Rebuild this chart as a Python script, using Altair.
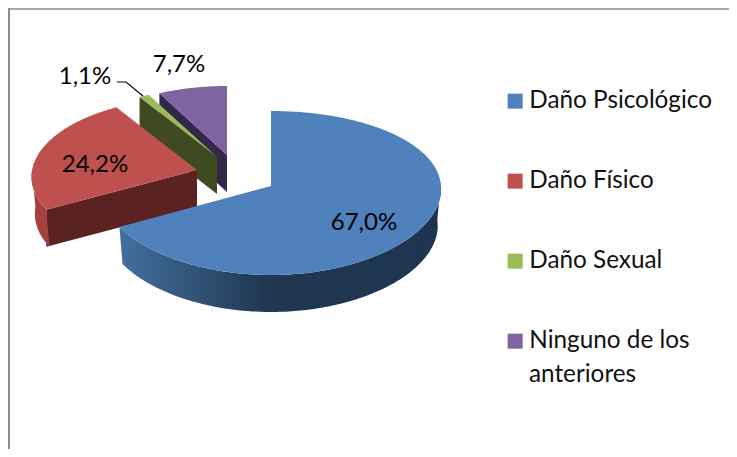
import math
import altair as alt

categories = ["Daño Psicológico", "Daño Físico", "Daño Sexual", "Ninguno de los anteriores"]
values = [67.0, 24.2, 1.1, 7.7]
value_labels = ["67,0%", "24,2%", "1,1%", "7,7%"]
top_colors = ["#4F81BD", "#BE504D", "#9BBB59", "#8064A2"]
cut_colors = ["#1F3450", "#5A2321", "#3F4A20", "#33274A"]

# pie geometry (page pixels): apex shift and size for each exploded slice
APEX = [(271, 186), (197, 170), (217, 157), (227, 155)]
SCALE = [1.0, 0.97, 0.93, 0.92]
KX = [0.035, 0.0853, 0.0853, 0.0853]
A, B, K, DEPTH = 170, 81.4, 0.0853, 37


def pt(i, deg, r=1.0, bottom=False):
    t = math.radians(deg)
    v = -math.cos(t) * r
    x = A * math.sin(t) * r / (1 - KX[i] * v) * SCALE[i]
    y = B * v / (1 - K * v) * SCALE[i]
    if bottom:
        return [APEX[i][0] + x * 0.98, APEX[i][1] + y + DEPTH]
    return [APEX[i][0] + x, APEX[i][1] + y]


def arc(i, a, b, bottom=False):
    n = max(2, int(abs(b - a)))
    return [pt(i, a + (b - a) * k / n, bottom=bottom) for k in range(n + 1)]


def feature(ring, cat):
    ring = ring + [ring[0]]
    return {"type": "Feature", "properties": {"category": cat},
            "geometry": {"type": "Polygon", "coordinates": [ring]}}


starts = [sum(values[:i]) * 3.6 for i in range(4)]
ends = [sum(values[:i + 1]) * 3.6 for i in range(4)]
PROJ = dict(type="identity", scale=1, translate=[-8, -8])
color_scale = alt.Scale(domain=categories, range=top_colors)
legend = alt.Legend(
    title=None, orient="none", legendX=495, legendY=81, symbolType="square", symbolSize=225,
    symbolStrokeWidth=0, symbolOpacity=1, labelFont="Lato", labelFontSize=24.3, labelColor="#111111",
    labelLimit=300, labelOffset=2, rowPadding=55, padding=0,
    labelExpr="datum.label == 'Ninguno de los anteriores' ? 'Ninguno de los' : datum.label",
)


def shape(feats, fill):
    return alt.Chart(alt.Data(values=feats)).mark_geoshape(fill=fill, stroke=None, strokeWidth=0).project(**PROJ)


def top(i):
    ring = [pt(i, 0, r=0)] + arc(i, starts[i], ends[i])
    return alt.Chart(alt.Data(values=[feature(ring, categories[i])])).mark_geoshape(strokeWidth=0).encode(
        color=alt.Color("properties.category:N", scale=color_scale, legend=legend)
    ).project(**PROJ)


def cut(i, dx=0):
    a = pt(i, 0, r=0)
    b = pt(i, starts[i])
    ring = [a, b, [b[0], b[1] + DEPTH], [a[0], a[1] + DEPTH]]
    if dx:
        ring = [[p[0] + dx, p[1]] for p in ring]
    return shape([feature(ring, categories[i])], cut_colors[i])


def outer(i, a, b, fill):
    ring = arc(i, a, b) + arc(i, b, a, bottom=True)
    return shape([feature(ring, categories[i])], fill)


blue_wall = alt.Gradient(
    gradient="linear", x1=1, x2=0, y1=0, y2=0,
    stops=[alt.GradientStop(offset=0, color="#1E3450"),
           alt.GradientStop(offset=0.55, color="#203852"),
           alt.GradientStop(offset=1, color="#43709F")],
)

layers = [
    # frame
    alt.Chart(alt.Data(values=[{"a": 1}])).mark_rule(color="#8C8C8C", strokeWidth=2).encode(
        x=alt.value(1), y=alt.value(0), y2=alt.value(441)),
    alt.Chart(alt.Data(values=[{"a": 1}])).mark_rule(color="#8C8C8C", strokeWidth=1.5).encode(
        y=alt.value(1), x=alt.value(0), x2=alt.value(721)),
    # clipped title at the top edge
    alt.Chart(alt.Data(values=[{"t": "Gráfico 3.2.6 Violencia intrafamiliar"}])).mark_text(
        font="Liberation Serif", fontWeight="bold", fontSize=21, align="center", baseline="alphabetic", color="#000000"
    ).encode(text="t:N", x=alt.value(375), y=alt.value(-3)),
    cut(3), top(3), cut(2), top(2),
    cut(1), outer(1, starts[1], 270, "#A4413E"), top(1),
    cut(0, dx=1.5), outer(0, 88, ends[0], blue_wall), top(0),
]

# leader line of the small slice
leader = [[117, 82], [126, 82], [143, 96]]
layers.append(
    alt.Chart(alt.Data(values=[{"type": "Feature", "properties": {},
                                "geometry": {"type": "LineString", "coordinates": leader}}]))
    .mark_geoshape(filled=False, stroke="#000000", strokeWidth=1.2).project(**PROJ)
)

# data labels and the wrapped second line of the legend
label_pos = [(364, 223), (95, 165), (85, 77), (179, 65)]
for txt, (x, y) in zip(value_labels, label_pos):
    layers.append(
        alt.Chart(alt.Data(values=[{"t": txt}])).mark_text(
            font="Lato", fontSize=24, align="center", baseline="middle", color="#000000"
        ).encode(text="t:N", x=alt.value(x - 8), y=alt.value(y - 8))
    )
layers.append(
    alt.Chart(alt.Data(values=[{"t": "anteriores"}])).mark_text(
        font="Lato", fontSize=24.3, align="left", baseline="middle", color="#111111"
    ).encode(text="t:N", x=alt.value(521), y=alt.value(367))
)

chart = alt.layer(*layers).properties(
    width=721, height=441, padding=0, autosize=alt.AutoSizeParams(type="none"),
    background="#FFFFFF",
).configure_view(stroke=None)

chart.save("out.html", embed_options={"renderer": "svg", "actions": False})
